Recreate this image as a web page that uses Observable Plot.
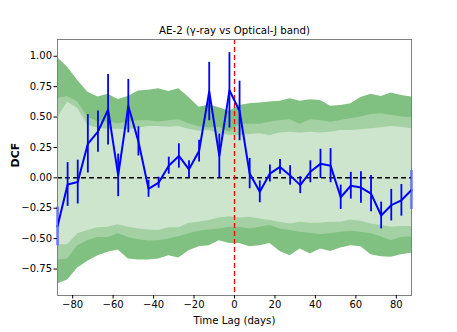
<!DOCTYPE html>
<html>
<head>
<meta charset="utf-8">
<script src="https://cdn.jsdelivr.net/npm/d3@7"></script>
<script src="https://cdn.jsdelivr.net/npm/@observablehq/plot@0.6"></script>
<style>
  html, body { margin: 0; padding: 0; background: white; }
</style>
</head>
<body>
<div id="chart"></div>
<script>
const title = "AE-2 (γ-ray vs Optical-J band)";
const xLabel = "Time Lag (days)";
const yLabel = "DCF";
const xTicks = [-80, -60, -40, -20, 0, 20, 40, 60, 80];
const yTicks = [-0.75, -0.5, -0.25, 0, 0.25, 0.5, 0.75, 1.0];

const lags = [-87.5, -82.5, -77.5, -72.5, -67.5, -62.5, -57.5, -52.5, -47.5, -42.5, -37.5, -32.5,
  -27.5, -22.5, -17.5, -12.5, -7.5, -2.5, 2.5, 7.5, 12.5, 17.5, 22.5, 27.5,
  32.5, 37.5, 42.5, 47.5, 52.5, 57.5, 62.5, 67.5, 72.5, 77.5, 82.5, 87.5];
const dcf = [-0.40, -0.055, -0.035, 0.28, 0.38, 0.56, 0.02, 0.59, 0.30, -0.09, -0.04, 0.10,
  0.18, 0.07, 0.22, 0.71, 0.18, 0.72, 0.55, 0.035, -0.115, 0.035, 0.09, 0.02,
  -0.06, 0.05, 0.115, 0.10, -0.16, -0.065, -0.08, -0.13, -0.31, -0.225, -0.185, -0.10];
const dcfErr = [0.16, 0.18, 0.18, 0.24, 0.17, 0.29, 0.175, 0.22, 0.12, 0.07, 0.045, 0.07,
  0.10, 0.07, 0.09, 0.24, 0.18, 0.31, 0.245, 0.125, 0.09, 0.07, 0.06, 0.08,
  0.07, 0.09, 0.12, 0.14, 0.10, 0.11, 0.13, 0.15, 0.11, 0.13, 0.13, 0.16];

// significance bands (outer = 3, middle = 2, inner = 1)
const upper3 = [0.99, 0.91, 0.80, 0.705, 0.665, 0.687, 0.645, 0.67, 0.714, 0.72, 0.733, 0.71,
  0.733, 0.66, 0.58, 0.60, 0.577, 0.547, 0.596, 0.61, 0.615, 0.623, 0.63, 0.65,
  0.63, 0.643, 0.637, 0.588, 0.596, 0.61, 0.66, 0.687, 0.67, 0.697, 0.678, 0.664];
const upper2 = [0.65, 0.67, 0.623, 0.50, 0.46, 0.46, 0.445, 0.46, 0.47, 0.47, 0.46, 0.47,
  0.478, 0.445, 0.42, 0.41, 0.417, 0.376, 0.44, 0.44, 0.44, 0.458, 0.472, 0.478,
  0.44, 0.478, 0.472, 0.458, 0.472, 0.486, 0.50, 0.52, 0.527, 0.514, 0.50, 0.495];
const upper1 = [0.495, 0.623, 0.57, 0.43, 0.41, 0.40, 0.40, 0.395, 0.41, 0.423, 0.423, 0.417,
  0.423, 0.40, 0.384, 0.39, 0.36, 0.35, 0.349, 0.357, 0.363, 0.349, 0.368, 0.376,
  0.368, 0.376, 0.368, 0.376, 0.39, 0.39, 0.396, 0.404, 0.412, 0.423, 0.417, 0.404];
const lower1 = [-0.55, -0.55, -0.46, -0.434, -0.41, -0.407, -0.385, -0.407, -0.42, -0.43, -0.434, -0.41,
  -0.41, -0.374, -0.366, -0.35, -0.33, -0.32, -0.33, -0.325, -0.338, -0.352, -0.366, -0.38,
  -0.366, -0.374, -0.374, -0.366, -0.366, -0.346, -0.358, -0.38, -0.393, -0.407, -0.40, -0.40];
const lower2 = [-0.676, -0.668, -0.558, -0.517, -0.49, -0.49, -0.46, -0.49, -0.51, -0.52, -0.517, -0.503,
  -0.484, -0.46, -0.44, -0.43, -0.42, -0.407, -0.407, -0.42, -0.407, -0.393, -0.42, -0.434,
  -0.448, -0.456, -0.467, -0.46, -0.448, -0.44, -0.448, -0.46, -0.484, -0.517, -0.49, -0.484];
const lower3 = [-0.874, -0.84, -0.742, -0.687, -0.64, -0.613, -0.594, -0.668, -0.676, -0.676, -0.668, -0.64,
  -0.66, -0.60, -0.566, -0.558, -0.517, -0.54, -0.54, -0.566, -0.558, -0.54, -0.605, -0.64,
  -0.585, -0.627, -0.585, -0.605, -0.577, -0.558, -0.566, -0.632, -0.649, -0.654, -0.632, -0.621];

const rows = lags.map((lag, i) => ({
  lag, dcf: dcf[i], lo: dcf[i] - dcfErr[i], hi: dcf[i] + dcfErr[i],
  u3: upper3[i], u2: upper2[i], u1: upper1[i], l1: lower1[i], l2: lower2[i], l3: lower3[i]
}));

const fmtX = d3.format("d");
const fmtY = d3.format(".2f");

const chart = Plot.plot({
  width: 457,
  height: 332,
  marginLeft: 57,
  marginRight: 46,
  marginTop: 39,
  marginBottom: 37,
  style: { fontFamily: "DejaVu Sans", fontSize: "10px", background: "white", color: "black", overflow: "visible" },
  x: { domain: [-87.5, 87.5] },
  y: { domain: [-0.968, 1.138] },
  marks: [
    Plot.areaY(rows, { x: "lag", y1: "l3", y2: "u3", fill: "#80c080" }),
    Plot.areaY(rows, { x: "lag", y1: "l2", y2: "u2", fill: "#a3d1a3" }),
    Plot.areaY(rows, { x: "lag", y1: "l1", y2: "u1", fill: "#cce5cc" }),
    Plot.ruleY([0], { stroke: "black", strokeWidth: 1.5, strokeDasharray: "5,3" }),
    Plot.ruleX([0], { stroke: "red", strokeWidth: 1.3, strokeDasharray: "5,3" }),
    Plot.ruleX(rows, { x: "lag", y1: "lo", y2: "hi", stroke: "blue", strokeWidth: 1.8 }),
    Plot.line(rows, { x: "lag", y: "dcf", stroke: "blue", strokeWidth: 2 }),
    Plot.frame({ stroke: "#808080", strokeWidth: 1 }),
    Plot.axisX({ ticks: xTicks, tickFormat: fmtX, tickSize: 3.5, tickPadding: 2, label: null, fontSize: 10 }),
    Plot.axisY({ ticks: yTicks, tickFormat: fmtY, tickSize: 3.5, tickPadding: 2, label: null, fontSize: 10 }),
    Plot.text([title], { frameAnchor: "top", dy: -8.5, lineAnchor: "middle", fontSize: 10.2 }),
    Plot.text([xLabel], { frameAnchor: "bottom", dy: 25, lineAnchor: "middle", fontSize: 10.2 }),
    Plot.text([yLabel], { frameAnchor: "left", dx: -42, rotate: -90, lineAnchor: "middle", fontSize: 11, fontWeight: "bold" })
  ]
});
document.getElementById("chart").appendChild(chart);
</script>
</body>
</html>
